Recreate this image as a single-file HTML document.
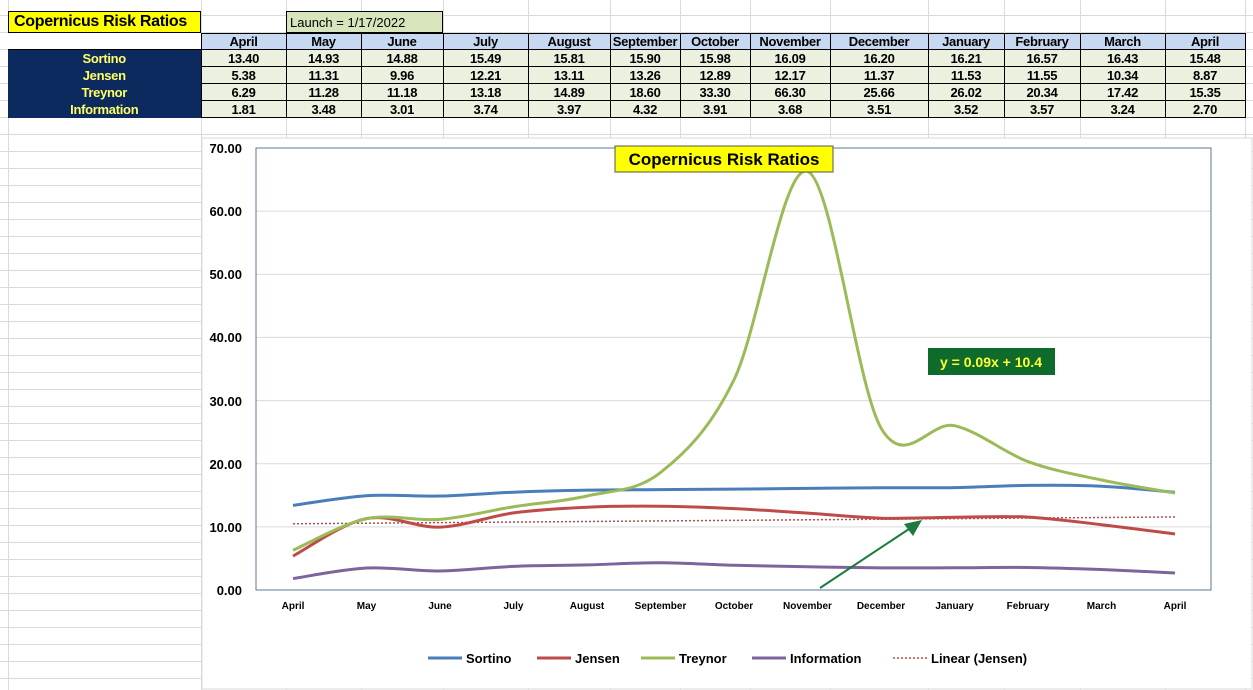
<!DOCTYPE html>
<html><head><meta charset="utf-8"><style>
body{margin:0;width:1253px;height:690px;overflow:hidden;background:#fff;font-family:"Liberation Sans",Arial,sans-serif;position:relative}
.a{position:absolute;box-sizing:border-box}
table{position:absolute;left:8px;top:33px;width:1237px;table-layout:fixed;border-collapse:collapse;font-weight:bold;font-size:13px;letter-spacing:-0.3px}
td{border:1px solid #000;height:17px;padding:0;text-align:center;box-sizing:border-box;line-height:15px;white-space:nowrap;overflow:hidden}
tr.h td{background:#c6d9f1;height:16px}
tr.h td.e{background:#fff;border:none;border-bottom:1px solid #000}
td.l{background:#0d2a5e;color:#ffff66;border:none}
td.v{background:#ebf1de}
</style></head><body>
<svg class="a" style="left:0;top:0" width="1253" height="690" id="bg"></svg>
<div class="a" style="left:8px;top:11px;width:193px;height:22px;background:#ffff00;border:1px solid #000;font-weight:bold;font-size:16px;line-height:20px;padding-left:5px;white-space:nowrap;overflow:hidden;letter-spacing:-0.3px">Copernicus Risk Ratios</div>
<div class="a" style="left:286px;top:11px;width:157px;height:22px;background:#d8e4bc;border:1px solid #000;font-size:13px;line-height:21px;padding-left:3px;white-space:nowrap">Launch = 1/17/2022</div>
<table>
<colgroup><col style="width:193px"><col style="width:85px"><col style="width:75px"><col style="width:82px"><col style="width:85px"><col style="width:82px"><col style="width:70px"><col style="width:70px"><col style="width:80px"><col style="width:98px"><col style="width:76px"><col style="width:76px"><col style="width:85px"><col style="width:80px"></colgroup>
<tr class="h"><td class="e"></td><td>April</td><td>May</td><td>June</td><td>July</td><td>August</td><td>September</td><td>October</td><td>November</td><td>December</td><td>January</td><td>February</td><td>March</td><td>April</td></tr>
<tr><td class="l">Sortino</td><td class="v">13.40</td><td class="v">14.93</td><td class="v">14.88</td><td class="v">15.49</td><td class="v">15.81</td><td class="v">15.90</td><td class="v">15.98</td><td class="v">16.09</td><td class="v">16.20</td><td class="v">16.21</td><td class="v">16.57</td><td class="v">16.43</td><td class="v">15.48</td></tr>
<tr><td class="l">Jensen</td><td class="v">5.38</td><td class="v">11.31</td><td class="v">9.96</td><td class="v">12.21</td><td class="v">13.11</td><td class="v">13.26</td><td class="v">12.89</td><td class="v">12.17</td><td class="v">11.37</td><td class="v">11.53</td><td class="v">11.55</td><td class="v">10.34</td><td class="v">8.87</td></tr>
<tr><td class="l">Treynor</td><td class="v">6.29</td><td class="v">11.28</td><td class="v">11.18</td><td class="v">13.18</td><td class="v">14.89</td><td class="v">18.60</td><td class="v">33.30</td><td class="v">66.30</td><td class="v">25.66</td><td class="v">26.02</td><td class="v">20.34</td><td class="v">17.42</td><td class="v">15.35</td></tr>
<tr><td class="l">Information</td><td class="v">1.81</td><td class="v">3.48</td><td class="v">3.01</td><td class="v">3.74</td><td class="v">3.97</td><td class="v">4.32</td><td class="v">3.91</td><td class="v">3.68</td><td class="v">3.51</td><td class="v">3.52</td><td class="v">3.57</td><td class="v">3.24</td><td class="v">2.70</td></tr>
</table>
<svg class="a" style="left:0;top:0" width="1253" height="690" id="ch" font-family="Liberation Sans, Arial, sans-serif">
<rect x="202" y="138" width="1050" height="551" fill="#fff" stroke="#d9d9d9"/>
<g id="grid"></g>
<rect x="256" y="148" width="955" height="442" fill="none" stroke="#5a7891" stroke-width="1"/>
<g font-size="13" font-weight="bold" text-anchor="end">
<text x="242" y="153">70.00</text><text x="242" y="216">60.00</text><text x="242" y="279">50.00</text><text x="242" y="342">40.00</text><text x="242" y="406">30.00</text><text x="242" y="469">20.00</text><text x="242" y="532">10.00</text><text x="242" y="595">0.00</text>
</g>
<g font-size="10" font-weight="bold" text-anchor="middle" id="xl">
<text x="293" y="609">April</text><text x="366.5" y="609">May</text><text x="440" y="609">June</text><text x="513.5" y="609">July</text><text x="587" y="609">August</text><text x="660.5" y="609">September</text><text x="734" y="609">October</text><text x="807.5" y="609">November</text><text x="881" y="609">December</text><text x="954.5" y="609">January</text><text x="1028" y="609">February</text><text x="1101.5" y="609">March</text><text x="1175" y="609">April</text>
</g>
<g id="series"></g>
<rect x="615" y="146" width="218" height="26" fill="#ffff00" stroke="#555"/>
<text x="724" y="165" font-size="17" font-weight="bold" text-anchor="middle">Copernicus Risk Ratios</text>
<rect x="928" y="348" width="127" height="27" fill="#0e6b2b"/>
<text x="991" y="367" font-size="14" font-weight="bold" fill="#ffff33" text-anchor="middle">y = 0.09x + 10.4</text>
<line x1="820" y1="588" x2="912" y2="527" stroke="#1d7a3c" stroke-width="2"/>
<polygon points="922,520 904,524 913,536" fill="#1d7a3c"/>
<g font-size="13" font-weight="bold">
<line x1="428" y1="658" x2="462" y2="658" stroke="#4a7ebb" stroke-width="3"/><text x="466" y="663">Sortino</text>
<line x1="537" y1="658" x2="571" y2="658" stroke="#be4b48" stroke-width="3"/><text x="575" y="663">Jensen</text>
<line x1="641" y1="658" x2="675" y2="658" stroke="#9bbb59" stroke-width="3"/><text x="679" y="663">Treynor</text>
<line x1="752" y1="658" x2="786" y2="658" stroke="#7e649e" stroke-width="3"/><text x="790" y="663">Information</text>
<line x1="893" y1="658" x2="927" y2="658" stroke="#be4b48" stroke-width="1.5" stroke-dasharray="2,2"/><text x="931" y="663">Linear (Jensen)</text>
</g>
</svg>
<script>
var ns="http://www.w3.org/2000/svg";
function el(p,t,a){var e=document.createElementNS(ns,t);for(var k in a)e.setAttribute(k,a[k]);p.appendChild(e);return e;}
var bg=document.getElementById('bg');
var xs=[8,201,286,361,443,528,610,680,750,830,928,1004,1080,1165,1245];
for(var y=15;y<690;y+=17)el(bg,'line',{x1:0,x2:1253,y1:y+0.5,y2:y+0.5,stroke:'#dadada'});
xs.forEach(function(x){el(bg,'line',{x1:x+0.5,x2:x+0.5,y1:0,y2:690,stroke:'#dadada'});});
var g=document.getElementById('grid');
for(var v=10;v<70;v+=10){var yy=590-v*442/70;el(g,'line',{x1:256,x2:1211,y1:yy,y2:yy,stroke:'#d9d9d9'});}
function X(i){return 293+i*73.5}function Y(v){return 590-v*442/70}
var D={
s:[13.40,14.93,14.88,15.49,15.81,15.90,15.98,16.09,16.20,16.21,16.57,16.43,15.48],
j:[5.38,11.31,9.96,12.21,13.11,13.26,12.89,12.17,11.37,11.53,11.55,10.34,8.87],
t:[6.29,11.28,11.18,13.18,14.89,18.60,33.30,66.30,25.66,26.02,20.34,17.42,15.35],
i:[1.81,3.48,3.01,3.74,3.97,4.32,3.91,3.68,3.51,3.52,3.57,3.24,2.70]};
function path(a){var p=a.map(function(v,i){return[X(i),Y(v)]});var d='M'+p[0][0]+','+p[0][1];
for(var i=0;i<p.length-1;i++){var p0=p[i-1]||p[i],p1=p[i],p2=p[i+1],p3=p[i+2]||p2;var t=6;
d+=' C'+(p1[0]+(p2[0]-p0[0])/t)+','+(p1[1]+(p2[1]-p0[1])/t)+' '+(p2[0]-(p3[0]-p1[0])/t)+','+(p2[1]-(p3[1]-p1[1])/t)+' '+p2[0]+','+p2[1];}return d;}
var s=document.getElementById('series');
el(s,'line',{x1:X(0),x2:X(12),y1:Y(10.49),y2:Y(11.57),stroke:'#be4b48','stroke-width':1.5,'stroke-dasharray':'2,2'});
[['i','#7e649e'],['j','#be4b48'],['s','#4a7ebb'],['t','#9bbb59']].forEach(function(q){el(s,'path',{d:path(D[q[0]]),fill:'none',stroke:q[1],'stroke-width':3,'stroke-linejoin':'round'});});
</script>
</body></html>
